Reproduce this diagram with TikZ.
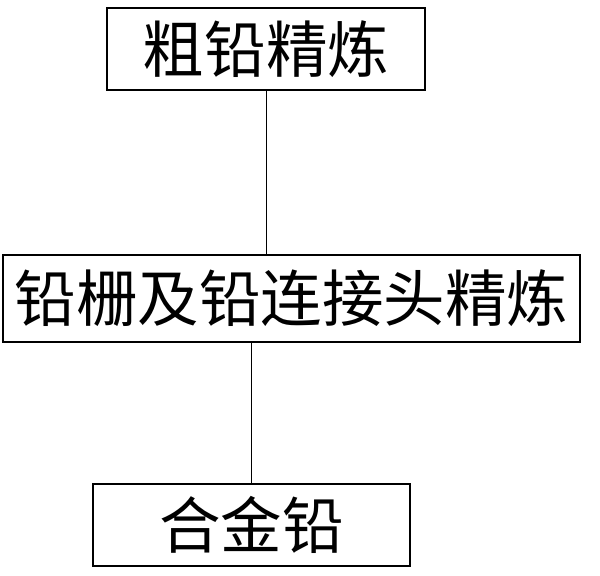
\documentclass[tikz,border=0pt]{standalone}
\usepackage{fontspec}
\newfontfamily\cjk{Noto Sans CJK SC}
\tikzset{%
	box/.style={draw, thick, inner sep=0pt, font=\cjk\fontsize{35}{40}\selectfont},
	link/.style={thin}}

\begin{document}
\begin{tikzpicture}
		\useasboundingbox (0,0) rectangle (12,-11.52);
		\node[box, minimum width=6.36cm, minimum height=1.64cm] (CL) at (5.32,-0.98) {粗铅精炼};
		\node[box, minimum width=11.54cm, minimum height=1.74cm] (ZL) at (5.83,-5.97) {铅栅及铅连接头精炼};
		\node[box, minimum width=6.34cm, minimum height=1.64cm] (HJ) at (5.03,-10.5) {合金铅};
		
		\draw[link] (CL.south) -- (CL.south |- ZL.north);
		\draw[link] (HJ.north |- ZL.south) -- (HJ.north);
	\end{tikzpicture}
\end{document}
